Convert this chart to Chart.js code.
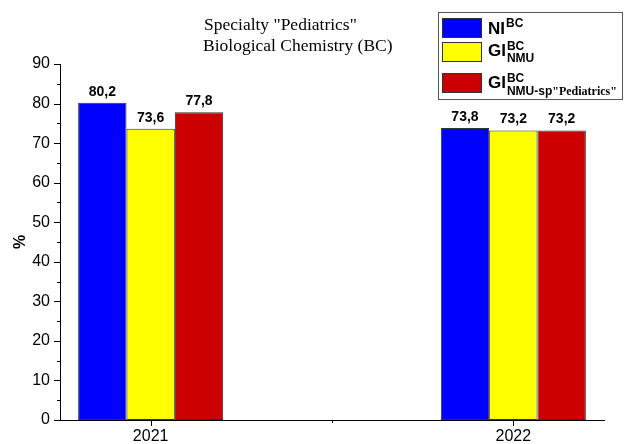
<!DOCTYPE html>
<html>
<head>
<meta charset="utf-8">
<script src="https://cdn.jsdelivr.net/npm/chart.js@4"></script>
<style>
  html, body { margin: 0; padding: 0; background: #fff; }
  #wrap { width: 631px; height: 444px; }
</style>
</head>
<body>
<div id="wrap"><canvas id="chart" width="631" height="444"></canvas></div>
<script>
// data
const years = [2021, 2022];
const niBC = [80.2, 73.8];
const giNMU = [73.6, 73.2];
const giPediatrics = [77.8, 73.2];
const xTicks = [2021, 2021.5, 2022];
const titleLines = ['Specialty "Pediatrics"', 'Biological Chemistry (BC)'];

function pts(vals) {
    return years.map((y, i) => ({ x: y, y: vals[i] }));
}

const ARIAL = 'Arial, "Liberation Sans", sans-serif';
const TIMES = '"Times New Roman", "Liberation Serif", serif';

// custom tick marks (major + minor), values above bars, title and legend
const extras = {
    id: 'extras',
    afterDraw(chart) {
        const ctx = chart.ctx;
        const x = chart.scales.x;
        const y = chart.scales.y;
        ctx.save();
        ctx.strokeStyle = '#000';
        ctx.lineWidth = 1;

        // y ticks every 5, long on tens
        ctx.beginPath();
        for (let v = 0; v <= 90; v += 5) {
            const py = Math.round(y.getPixelForValue(v)) + 0.5;
            const len = v % 10 === 0 ? 6 : 3;
            ctx.moveTo(x.left - len, py);
            ctx.lineTo(x.left, py);
        }
        // x ticks
        xTicks.forEach(v => {
            const px = Math.round(x.getPixelForValue(v)) + 0.5;
            ctx.moveTo(px, y.bottom);
            ctx.lineTo(px, y.bottom + (Number.isInteger(v) ? 6 : 3));
        });
        ctx.stroke();

        // value labels
        ctx.fillStyle = '#000';
        ctx.font = 'bold 14px ' + ARIAL;
        ctx.textAlign = 'center';
        ctx.textBaseline = 'alphabetic';
        chart.data.datasets.forEach((ds, di) => {
            chart.getDatasetMeta(di).data.forEach((bar, i) => {
                ctx.fillText(ds.data[i].y.toFixed(1).replace('.', ','), bar.x, bar.y - 7);
            });
        });

        // title
        ctx.font = '17.5px ' + TIMES;
        ctx.textAlign = 'left';
        ctx.fillText(titleLines[0], 204, 30);
        ctx.fillText(titleLines[1], 203, 51);

        // legend
        ctx.strokeStyle = '#555';
        ctx.strokeRect(438.5, 12.5, 184, 87);
        const swY = [18, 42, 73];
        chart.data.datasets.forEach((ds, di) => {
            ctx.fillStyle = ds.backgroundColor;
            ctx.fillRect(442, swY[di], 40, 20);
            ctx.strokeStyle = '#333';
            ctx.strokeRect(442.5, swY[di] + 0.5, 39, 19);
        });
        ctx.fillStyle = '#000';
        const big = 'bold 17px ' + ARIAL;
        const small = 'bold 12px ' + ARIAL;
        // NI^BC
        ctx.font = big;
        ctx.fillText('NI', 488, 34);
        let w = ctx.measureText('NI').width;
        ctx.font = small;
        ctx.fillText('BC', 489 + w, 27);
        // GI^BC_NMU
        ctx.font = big;
        ctx.fillText('GI', 488, 56);
        w = ctx.measureText('GI').width;
        ctx.font = small;
        ctx.fillText('BC', 489 + w, 50);
        ctx.fillText('NMU', 489 + w, 62);
        // GI^BC_NMU-sp"Pediatrics"
        ctx.font = big;
        ctx.fillText('GI', 488, 88);
        w = ctx.measureText('GI').width;
        ctx.font = small;
        ctx.fillText('BC', 489 + w, 82);
        ctx.fillText('NMU-sp', 489 + w, 95);
        const w2 = ctx.measureText('NMU-sp').width;
        ctx.font = 'bold 12px ' + TIMES;
        ctx.fillText('"Pediatrics"', 489 + w + w2, 95);
        ctx.restore();
    }
};

new Chart(document.getElementById('chart'), {
    type: 'bar',
    data: {
        datasets: [
            { label: 'NI', data: pts(niBC), backgroundColor: '#0000ff' },
            { label: 'GI NMU', data: pts(giNMU), backgroundColor: '#ffff00' },
            { label: 'GI NMU-sp', data: pts(giPediatrics), backgroundColor: '#cc0000' }
        ].map(d => Object.assign(d, {
            borderColor: '#333',
            borderWidth: 1,
            borderSkipped: false,
            categoryPercentage: 0.8,
            barPercentage: 1
        }))
    },
    options: {
        responsive: false,
        animation: false,
        layout: { padding: { top: 64, right: 27, left: 0, bottom: 0 } },
        plugins: { legend: { display: false }, tooltip: { enabled: false } },
        scales: {
            x: {
                type: 'linear',
                offset: false,
                min: 2020.75,
                max: 2022.25,
                afterBuildTicks: s => { s.ticks = xTicks.map(v => ({ value: v })); },
                afterFit: s => { s.height = 24; },
                grid: { display: false, drawTicks: false, offset: false },
                border: { color: '#000', width: 1 },
                ticks: {
                    color: '#000',
                    font: { family: ARIAL, size: 16 },
                    padding: 7,
                    maxRotation: 0,
                    autoSkip: false,
                    callback: v => Number.isInteger(v) ? String(v) : ''
                }
            },
            y: {
                min: 0,
                max: 90,
                afterFit: s => { s.width = 60; },
                grid: { display: false, drawTicks: false },
                border: { color: '#000', width: 1 },
                ticks: {
                    stepSize: 10,
                    color: '#000',
                    font: { family: ARIAL, size: 16 },
                    padding: 10
                },
                title: {
                    display: true,
                    text: '%',
                    color: '#000',
                    font: { family: ARIAL, size: 16, weight: 'bold' },
                    padding: { top: 11, bottom: 0 }
                }
            }
        }
    },
    plugins: [extras]
});
</script>
</body>
</html>
